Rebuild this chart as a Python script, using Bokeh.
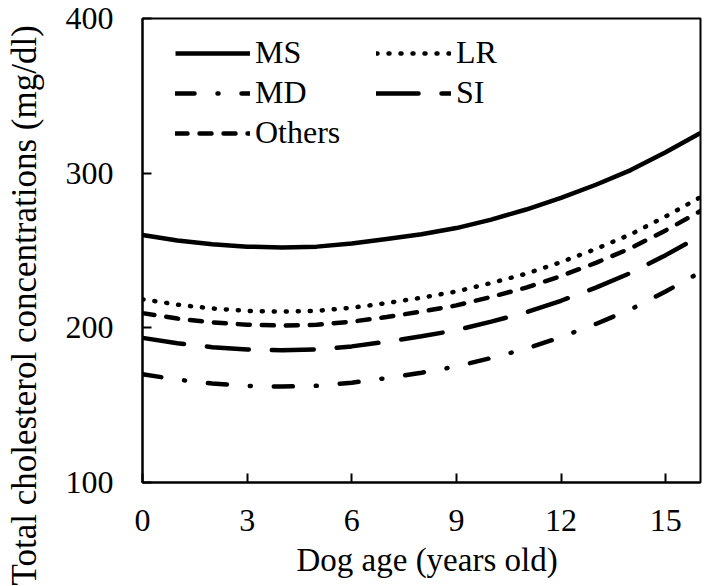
from bokeh.plotting import figure
from bokeh.models import Legend, LegendItem, FixedTicker, Range1d, Title
from bokeh.embed import file_html
from bokeh.resources import INLINE

age = list(range(0, 17))
ms = [260, 256.5, 254, 252.5, 252, 252.5, 254.5, 257.5, 260.5, 264.5, 270, 276.5, 284, 292.5, 302, 313.5, 326]
lr = [218.5, 215, 212.5, 211, 210.5, 211, 213, 216, 219.5, 223.5, 229, 235, 242.5, 251, 260.5, 272, 284.5]
others = [209.5, 206, 203.5, 202, 201.5, 202, 204, 207, 210.5, 214.5, 220, 226, 233.5, 242, 251.5, 263, 275.5]
si = [193.5, 190, 187.5, 186, 185.5, 186, 188, 191, 194.5, 198.5, 204, 210, 217.5, 226, 235.5, 247, 259.5]
md = [170, 166.5, 164, 162.5, 162, 162.5, 164.5, 167.5, 171, 175, 180.5, 186.5, 194, 202.5, 212, 223.5, 236]

x_ticks = [0, 3, 6, 9, 12, 15]
y_ticks = [100, 200, 300, 400]

FONT = "Liberation Serif"
FS = "32px"

p = figure(width=702, height=586, output_backend="svg", toolbar_location=None,
           x_range=Range1d(0, 16), y_range=Range1d(100, 400),
           min_border_top=18, min_border_right=2, min_border_left=142, min_border_bottom=104)
p.xgrid.visible = False
p.ygrid.visible = False
p.outline_line_color = "black"
p.outline_line_width = 2
p.outline_line_alpha = 1

for ax in (p.xaxis[0], p.yaxis[0]):
    ax.axis_line_width = 2
    ax.axis_line_color = "black"
    ax.major_tick_in = 9
    ax.major_tick_out = 0
    ax.major_tick_line_width = 2
    ax.minor_tick_line_color = None
    ax.major_label_text_font = FONT
    ax.major_label_text_font_size = FS
    ax.major_label_text_color = "black"

p.xaxis.ticker = FixedTicker(ticks=x_ticks)
p.yaxis.ticker = FixedTicker(ticks=y_ticks)
p.xaxis.major_label_standoff = 27
p.yaxis.major_label_standoff = 29

xt = Title(text="Dog age (years old)", align="left", offset=154,
           text_font=FONT, text_font_size="33px", text_font_style="normal",
           text_color="black", standoff=12)
p.add_layout(xt, "below")

spacer = Title(text=" ", text_font_size="10px", standoff=6)
p.add_layout(spacer, "left")
yt = Title(text="Total cholesterol concentrations (mg/dl)", align="left", offset=-103,
           text_font=FONT, text_font_size="35px", text_font_style="normal",
           text_color="black", standoff=0)
p.add_layout(yt, "left")

LW = 4.5
r_ms = p.line(age, ms, line_color="black", line_width=LW)
r_lr = p.line(age, lr, line_color="black", line_width=LW, line_dash="1 11", line_cap="round")
r_ot = p.line(age, others, line_color="black", line_width=LW, line_dash="12 12", line_cap="round")
r_si = p.line(age, si, line_color="black", line_width=LW, line_dash="42 23", line_cap="round")
r_md = p.line(age, md, line_color="black", line_width=LW, line_dash="19 23 1 23", line_cap="round")

legend = Legend(items=[
    LegendItem(label="MS", renderers=[r_ms]),
    LegendItem(label="MD", renderers=[r_md]),
    LegendItem(label="Others", renderers=[r_ot]),
    LegendItem(label="LR", renderers=[r_lr]),
    LegendItem(label="SI", renderers=[r_si]),
], location=(33, 331), nrows=3, orientation="vertical",
    glyph_width=75, glyph_height=20, label_standoff=5, label_width=118,
    spacing=3, padding=0, margin=0,
    border_line_alpha=0, background_fill_alpha=0,
    label_text_font=FONT, label_text_font_size=FS, label_text_color="black")
p.add_layout(legend)

open("out.html", "w").write(file_html(p, INLINE))
